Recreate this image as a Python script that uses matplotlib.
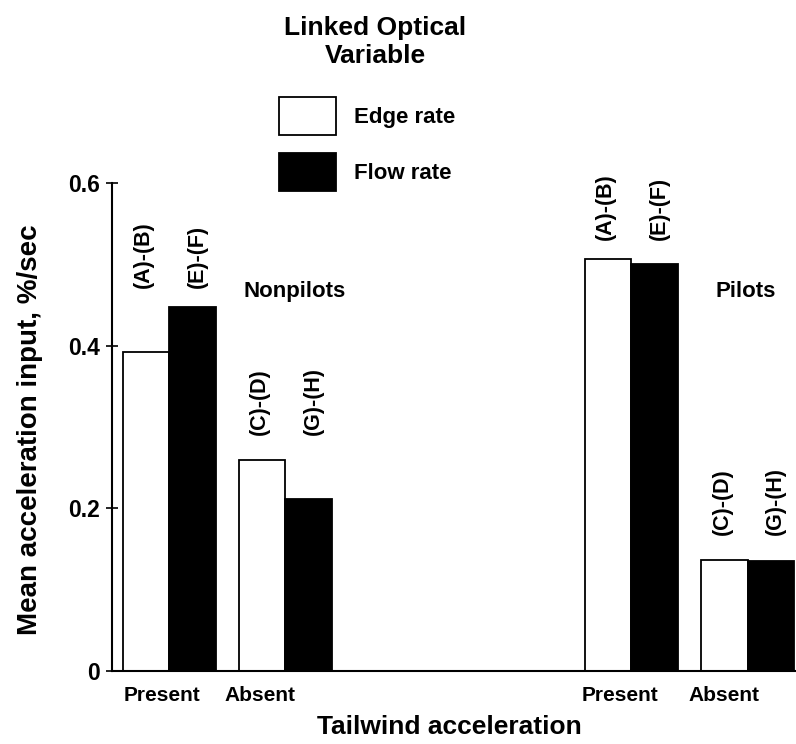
import numpy as np
import matplotlib.pyplot as plt
from matplotlib.ticker import FixedLocator, FuncFormatter

plt.rcParams['font.family'] = ['Liberation Sans', 'DejaVu Sans']
plt.rcParams['font.weight'] = 'bold'
plt.rcParams['axes.labelweight'] = 'bold'

# mean acceleration input (%/sec), order: Nonpilots Present, Absent, Pilots Present, Absent
edge_rate = [0.392, 0.259, 0.506, 0.136]
flow_rate = [0.447, 0.211, 0.500, 0.135]
edge_tags = ['(A)-(B)', '(C)-(D)', '(A)-(B)', '(C)-(D)']
flow_tags = ['(E)-(F)', '(G)-(H)', '(E)-(F)', '(G)-(H)']
conditions = ['Present', 'Absent', 'Present', 'Absent']
groups = ['Nonpilots', 'Pilots']

W, H = 796, 744
fig = plt.figure(figsize=(W / 100, H / 100), dpi=100)
ax = fig.add_axes([112 / W, 1 - 671 / H, 1 - 112 / W, (671 - 183) / H])

# bar layout: width 1, pairs 2.5 apart, groups ~9.94 apart
group_off = np.array([0.0, 9.94])
cond_off = np.array([0.0, 2.5])
edge_x = (group_off[:, None] + cond_off[None, :] + 0.73).ravel()
flow_x = edge_x + 1.0

b1 = ax.bar(edge_x, edge_rate, width=1.0, color='white', edgecolor='black',
            linewidth=1.3, label='Edge rate')
b2 = ax.bar(flow_x, flow_rate, width=1.0, color='black', edgecolor='black',
            linewidth=1.3, label='Flow rate')

# rotated comparison tags above each bar pair
lift = [0.024, 0.031, 0.024, 0.031]
for i in range(4):
    top = max(edge_rate[i], flow_rate[i]) + lift[i]
    ax.text(edge_x[i] - 0.05, top, edge_tags[i], rotation=90, ha='center',
            va='bottom', fontsize=15.5)
    ax.text(flow_x[i] + 0.1, top, flow_tags[i], rotation=90, ha='center',
            va='bottom', fontsize=15.5)

ax.text(2.82, 0.467, groups[0], ha='left', va='center', fontsize=16)
ax.text(12.97, 0.467, groups[1], ha='left', va='center', fontsize=16)

ax.set_xlim(0, 14.71)
ax.set_ylim(0, 0.6)

centers = (edge_x + flow_x) / 2
shift = np.array([-0.15, -0.55, -0.25, -0.5])
ax.set_xticks(centers + shift)
ax.set_xticklabels(conditions, fontsize=15)
ax.tick_params(axis='x', length=0, pad=11)

ax.yaxis.set_major_locator(FixedLocator([0, 0.2, 0.4, 0.6]))
ax.yaxis.set_major_formatter(FuncFormatter(lambda v, p: '0' if v == 0 else '%.1f' % v))
ax.tick_params(axis='y', direction='inout', length=9, width=1.2, labelsize=16.5, pad=4)

for side in ['top', 'right']:
    ax.spines[side].set_visible(False)
for side in ['left', 'bottom']:
    ax.spines[side].set_linewidth(1.5)

ax.set_xlabel('Tailwind acceleration', fontsize=19)
ax.xaxis.set_label_coords(0.4927, -0.090)
ax.set_ylabel('Mean acceleration input, %/sec', fontsize=20)
ax.yaxis.set_label_coords(-0.101, 0.494)

fig.text(375 / W, 1 - 42 / H, 'Linked Optical\nVariable', ha='center', va='center',
         fontsize=19, linespacing=1.2)
ax.legend(handles=[b1, b2], loc='upper left', bbox_to_anchor=(279 / W, 1 - 97 / H),
          bbox_transform=fig.transFigure, frameon=False, fontsize=16,
          handlelength=2.57, handleheight=2.25, handletextpad=0.8,
          labelspacing=0.8, borderpad=0, borderaxespad=0)

fig.savefig('out.png', dpi=100)
